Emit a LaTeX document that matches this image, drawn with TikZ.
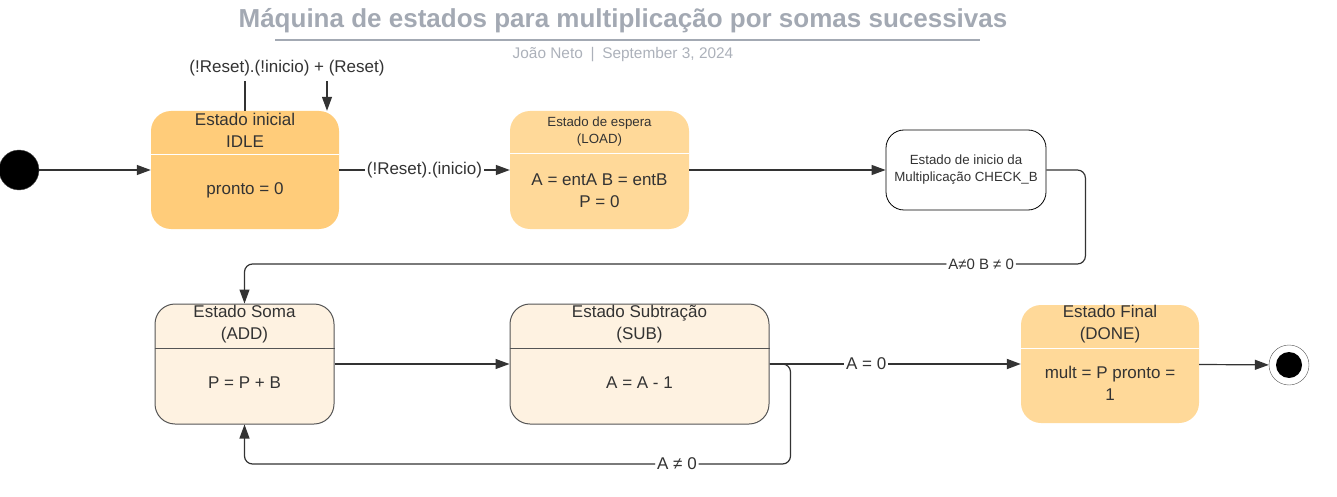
\documentclass[tikz,border=0pt]{standalone}
\usepackage{fontspec}
\setmainfont{Liberation Sans}
\usetikzlibrary{arrows.meta}

\definecolor{txtgray}{RGB}{51,51,51}
\definecolor{titlegray}{RGB}{163,169,179}
\definecolor{subgray}{RGB}{172,177,186}
\definecolor{idlefill}{RGB}{255,204,122}
\definecolor{loadfill}{RGB}{255,217,153}
\definecolor{addfill}{RGB}{254,242,225}
\definecolor{edgegray}{RGB}{85,85,85}

\tikzset{
  estado/.style 2 args={rounded corners=20pt, minimum width=#1pt, minimum height=#2pt, inner sep=0pt},
  quente/.style={fill=idlefill},
  morno/.style={fill=loadfill},
  claro/.style={fill=addfill, draw=edgegray, line width=1pt},
  txt/.style={text=txtgray, align=center, inner sep=1pt, font=\fontsize{17}{21.5}\selectfont},
  txtp/.style={text=txtgray, align=center, inner sep=1pt, font=\fontsize{13.3}{17}\selectfont},
  seta/.style={draw=txtgray, line width=1.2pt, -{Triangle[length=14pt,width=10pt]}},
  rotulo/.style={fill=white, text=txtgray, inner sep=2pt, font=\fontsize{17}{20}\selectfont}
}

\begin{document}
\begin{tikzpicture}[x=1pt, y=-1pt]
  \useasboundingbox (0,0) rectangle (1337,497);

  % Title and subtitle
  \node[text=titlegray, font=\bfseries\fontsize{26}{30}\selectfont] (titulo) at (623,21)
    {Máquina de estados para multiplicação por somas sucessivas};
  \draw[titlegray, line width=1.5pt] (275,40) -- (980,40);
  \node[text=subgray, font=\fontsize{15.4}{18}\selectfont] (autor) at (623,55)
    {João Neto\enspace|\enspace September 3, 2024};

  % Start and end points
  \node[circle, fill=black, draw=edgegray, minimum size=40pt, inner sep=0pt] (inicio) at (19,170) {};
  \node[circle, fill=white, draw=edgegray, minimum size=40pt, inner sep=0pt] (fim) at (1289,365) {};
  \node[circle, fill=black, minimum size=26pt, inner sep=0pt] (fimDot) at (1289,365) {};

  % Estado inicial (IDLE)
  \node[estado={188}{118}, quente] (idle) at (245,170) {};
  \draw[white, line width=1pt] (idle.west |- 0,155) -- (idle.east |- 0,155);
  \node[txt] (idleTit) at (245,130.5) {Estado inicial\\IDLE};
  \node[txt] (idleCorpo) at (245,190) {pronto = 0};

  % Estado de espera (LOAD)
  \node[estado={179}{118}, morno] (load) at (599.5,170) {};
  \draw[white, line width=1pt] (load.west |- 0,154) -- (load.east |- 0,154);
  \node[txtp] (loadTit) at (599.5,131.5) {Estado de espera\\(LOAD)};
  \node[txt] (loadCorpo) at (599.5,190.5) {A = entA B = entB\\P = 0};

  % Estado CHECK_B
  \node[estado={160}{80}, rounded corners=18pt, fill=white, draw=black, line width=0.8pt] (check) at (966,170) {};
  \node[txtp] (checkTit) at (966,169.5) {Estado de inicio da\\Multiplicação CHECK\_B};

  % Estado Soma (ADD)
  \node[estado={179}{120}, claro] (add) at (244.5,364) {};
  \draw[edgegray, line width=1pt] (add.west |- 0,348) -- (add.east |- 0,348);
  \node[txt] (addTit) at (244.5,324) {Estado Soma\\(ADD)};
  \node[txt] (addCorpo) at (244.5,383) {P = P + B};

  % Estado Subtracao (SUB)
  \node[estado={259}{120}, claro] (sub) at (639.5,364) {};
  \draw[edgegray, line width=1pt] (sub.west |- 0,348) -- (sub.east |- 0,348);
  \node[txt] (subTit) at (639.5,324) {Estado Subtração\\(SUB)};
  \node[txt] (subCorpo) at (639.5,383) {A = A - 1};

  % Estado Final (DONE)
  \node[estado={178}{118}, morno] (done) at (1110,364) {};
  \draw[white, line width=1pt] (done.west |- 0,348) -- (done.east |- 0,348);
  \node[txt] (doneTit) at (1110,324) {Estado Final\\(DONE)};
  \node[txt] (doneCorpo) at (1110,383.5) {mult = P pronto =\\1};

  % Transitions
  \coordinate (cLoop) at (287,68);
  \draw[seta] (idle.north) |- (cLoop) -| ([xshift=82pt]idle.north);
  \node[rotulo, minimum height=26pt] (lbLoop) at (cLoop) {(!Reset).(!inicio) + (Reset)};
  \draw[seta] (inicio) -- (idle);
  \draw[seta] (idle) -- node[rotulo, pos=0.5] {(!Reset).(inicio)} (load);
  \draw[seta] (load) -- (check);
  \draw[seta, rounded corners=8pt] (check.east) -- ++(39,0) -- ++(0,94)
    -| node[rotulo, pos=0.062, font=\fontsize{15}{18}\selectfont] {A≠0 B ≠ 0} (add.north);
  \draw[seta] (add) -- (sub);
  \draw[seta, line width=1.8pt] (sub) -- node[rotulo, pos=0.385] {A = 0} (done);
  \draw[seta, rounded corners=8pt] (sub.east) -- ++(21,0) -- ++(0,100)
    -| node[rotulo, pos=0.104] {A ≠ 0} (add.south);
  \draw[seta] (done) -- (fim);
\end{tikzpicture}
\end{document}
